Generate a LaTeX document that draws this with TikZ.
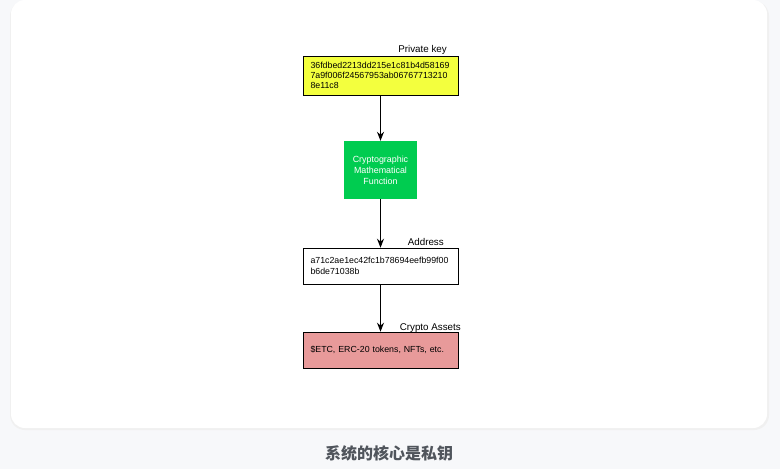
\documentclass[tikz,border=0pt]{standalone}
\usepackage{fontspec}
\setmainfont{Liberation Sans}
\newfontfamily\cjk{Noto Sans CJK SC}
\usetikzlibrary{arrows.meta}
\definecolor{pagebg}{HTML}{F7F8FA}
\definecolor{keyyellow}{HTML}{F3FF3E}
\definecolor{fungreen}{HTML}{00CC50}
\definecolor{assetpink}{HTML}{E89A9A}
\definecolor{captiongray}{HTML}{50555C}
\tikzset{
  box/.style={draw=black, line width=0.6pt, minimum width=155pt, text width=140pt,
    inner xsep=7.5pt, inner ysep=0pt, align=left, font=\fontsize{8.8}{10.3}\selectfont},
  funbox/.style={fill=fungreen, minimum width=73pt, minimum height=58pt, inner sep=0pt,
    align=center, text=white, font=\fontsize{8.9}{11}\selectfont},
  lbl/.style={anchor=base east, inner sep=0pt, font=\fontsize{9.8}{11}\selectfont},
  arr/.style={line width=1.1pt, -{Stealth[length=9pt,width=7pt]}}
}
\begin{document}
\begin{tikzpicture}[x=1pt,y=-1pt]
\useasboundingbox (0,0) rectangle (780,469);
\fill[pagebg] (0,0) rectangle (780,469);
% card shadow
\fill[black!6, rounded corners=15pt] (10,1) rectangle (769,430);
\fill[white, rounded corners=14pt] (11,0) rectangle (767,428);

\node[box, fill=keyyellow, minimum height=39pt] (key) at (380.5,75.5)
  {36fdbed2213dd215e1c81b4d58169\\7a9f006f24567953ab06767713210\\8e11c8};
\node[lbl] (keylbl) at (447,52) {Private key};

\node[funbox] (fun) at (380.5,170) {Cryptographic\\Mathematical\\Function};

\node[box, fill=white, minimum height=36pt] (addr) at (380.5,266)
  {a71c2ae1ec42fc1b78694eefb99f00\\b6de71038b};
\node[lbl] (addrlbl) at (444,245) {Address};

\node[box, fill=assetpink, minimum height=36pt] (asset) at (380.5,350)
  {\$ETC, ERC-20 tokens, NFTs, etc.};
\node[lbl] (assetlbl) at (461,330) {Crypto Assets};

\draw[arr] (key.south) -- (fun.north);
\draw[arr] (fun.south) -- (addr.north);
\draw[arr] (addr.south) -- (asset.north);

\node[font=\cjk\bfseries\fontsize{16}{18}\selectfont, text=captiongray] (cap) at (389,453) {系统的核心是私钥};
\end{tikzpicture}
\end{document}
